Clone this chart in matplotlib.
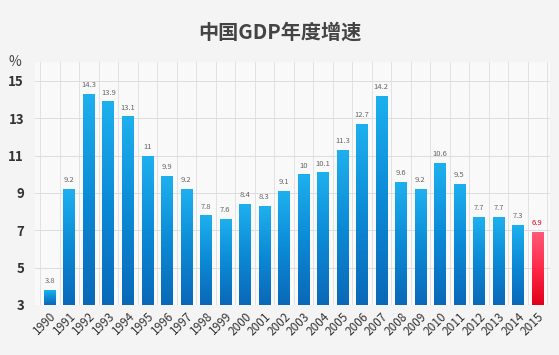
import matplotlib
matplotlib.use("Agg")
import matplotlib.pyplot as plt
import numpy as np
from matplotlib.colors import LinearSegmentedColormap

years = [str(y) for y in range(1990, 2016)]
growth = [3.8, 9.2, 14.3, 13.9, 13.1, 11, 9.9, 9.2, 7.8, 7.6, 8.4, 8.3, 9.1,
          10, 10.1, 11.3, 12.7, 14.2, 9.6, 9.2, 10.6, 9.5, 7.7, 7.7, 7.3, 6.9]
value_labels = ["3.8", "9.2", "14.3", "13.9", "13.1", "11", "9.9", "9.2", "7.8", "7.6",
                "8.4", "8.3", "9.1", "10", "10.1", "11.3", "12.7", "14.2", "9.6", "9.2",
                "10.6", "9.5", "7.7", "7.7", "7.3", "6.9"]
yticks = [3, 5, 7, 9, 11, 13, 15]

plt.rcParams['font.family'] = ['Noto Sans CJK SC', 'DejaVu Sans']

fig = plt.figure(figsize=(5.59, 3.55), dpi=100)
fig.patch.set_facecolor('#f4f4f4')
ax = fig.add_axes([0.063, 0.141, 0.921, 0.684])
ax.set_facecolor('#f9f9f9')

x = np.arange(len(years))
bars = ax.bar(x, growth, width=0.6, bottom=0, color='none', edgecolor='none', zorder=3)

blue = LinearSegmentedColormap.from_list('b', ['#0a68b8', '#0c8ad6', '#1eb0ee'])
red = LinearSegmentedColormap.from_list('r', ['#e0001a', '#ff2a48', '#ff5a78'])
grad = np.linspace(0, 1, 256).reshape(-1, 1)
for i, b in enumerate(bars):
    x0, w, h = b.get_x(), b.get_width(), b.get_height()
    cmap = red if i == len(bars) - 1 else blue
    im = ax.imshow(grad, extent=[x0, x0 + w, 3, h], origin='lower', aspect='auto',
                   cmap=cmap, zorder=3)
    im.set_clip_path(b)
    col = '#e8001c' if i == len(bars) - 1 else '#666666'
    ax.text(x0 + w / 2, h + 0.25, value_labels[i], ha='center', va='bottom',
            fontsize=5.5, color=col, zorder=4)

ax.set_xlim(-0.75, len(years) - 0.35)
ax.set_ylim(3, 16)
ax.set_yticks(yticks)
ax.set_yticklabels([str(t) for t in yticks], fontsize=9.5, fontweight='bold', color='#333333')
ax.set_xticks(x)
ax.set_xticklabels(years, rotation=45, ha='right', rotation_mode='anchor',
                   fontsize=8.5, color='#333333')
ax.set_xticks(np.arange(-0.5, len(years), 1), minor=True)
ax.tick_params(axis='both', which='both', length=0)
ax.tick_params(axis='y', pad=8)
ax.grid(axis='y', which='major', color='#dddddd', lw=0.7, zorder=0)
ax.grid(axis='x', which='minor', color='#e2e2e2', lw=0.7, zorder=0)
for s in ax.spines.values():
    s.set_visible(False)

ax.text(-0.039, 1.0, '%', transform=ax.transAxes, fontsize=10, color='#444444',
        ha='center', va='center')
fig.text(0.5, 0.91, '中国GDP年度增速', ha='center', va='center', fontsize=14.5,
         fontweight='bold', color='#444444')

fig.savefig('out.png', dpi=100, facecolor=fig.get_facecolor())
